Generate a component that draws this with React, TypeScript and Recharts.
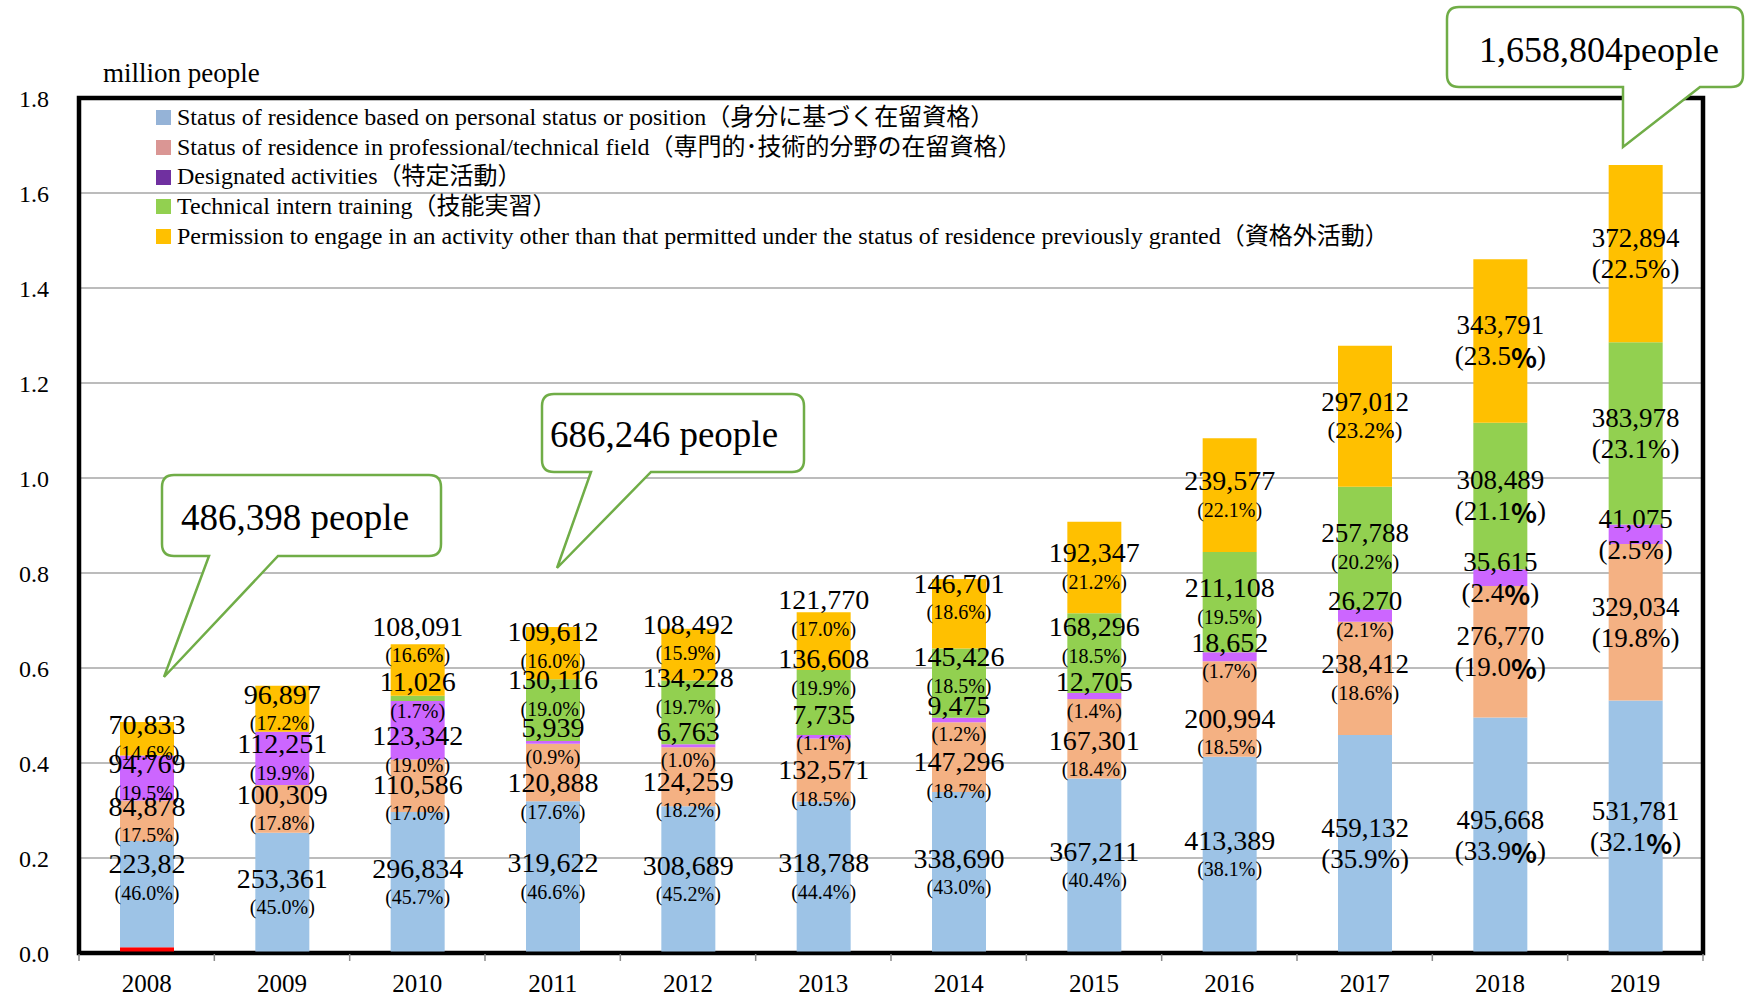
import {
  Bar,
  BarChart,
  CartesianGrid,
  LabelList,
  Legend,
  ReferenceArea,
  XAxis,
  YAxis,
} from "recharts";

const years = ["2008", "2009", "2010", "2011", "2012", "2013", "2014", "2015", "2016", "2017", "2018", "2019"];

// people, per status of residence
const unspecified = [12098, 0, 0, 0, 0, 0, 0, 0, 0, 0, 0, 0];
const personalStatus = [223820, 253361, 296834, 319622, 308689, 318788, 338690, 367211, 413389, 459132, 495668, 531781];
const professional = [84878, 100309, 110586, 120888, 124259, 132571, 147296, 167301, 200994, 238412, 276770, 329034];
const designated = [94769, 112251, 123342, 5939, 6763, 7735, 9475, 12705, 18652, 26270, 35615, 41075];
const internTraining = [0, 0, 11026, 130116, 134228, 136608, 145426, 168296, 211108, 257788, 308489, 383978];
const otherActivity = [70833, 96897, 108091, 109612, 108492, 121770, 146701, 192347, 239577, 297012, 343791, 372894];

// shares printed under each value (%)
const personalPct = [46.0, 45.0, 45.7, 46.6, 45.2, 44.4, 43.0, 40.4, 38.1, 35.9, 33.9, 32.1];
const professionalPct = [17.5, 17.8, 17.0, 17.6, 18.2, 18.5, 18.7, 18.4, 18.5, 18.6, 19.0, 19.8];
const designatedPct = [19.5, 19.9, 19.0, 0.9, 1.0, 1.1, 1.2, 1.4, 1.7, 2.1, 2.4, 2.5];
const internPct = [0, 0, 1.7, 19.0, 19.7, 19.9, 18.5, 18.5, 19.5, 20.2, 21.1, 23.1];
const otherPct = [14.6, 17.2, 16.6, 16.0, 15.9, 17.0, 18.6, 21.2, 22.1, 23.2, 23.5, 22.5];

const yTicksMillion = [0, 0.2, 0.4, 0.6, 0.8, 1.0, 1.2, 1.4, 1.6, 1.8];

const seriesNames = [
  "Status of residence based on personal status or position（身分に基づく在留資格）",
  "Status of residence in professional/technical field（専門的･技術的分野の在留資格）",
  "Designated activities（特定活動）",
  "Technical intern training（技能実習）",
  "Permission to engage in an activity other than that permitted under the status of residence previously granted（資格外活動）",
];

const callouts = [
  { text: "486,398 people" },
  { text: "686,246 people" },
  { text: "1,658,804people" },
];

// the 2008 label is cut short in the source
const labelOverride: Record<string, string> = { "personal-2008": "223,82" };

const FONT = "'Liberation Serif', 'Noto Sans CJK JP', serif";
const barColors = {
  unspecified: "#FF0000",
  personal: "#9DC3E6",
  professional: "#F4B183",
  designated: "#CC66FF",
  intern: "#92D050",
  other: "#FFC000",
};
const legendSwatch = ["#95B3D7", "#DA9694", "#7030A0", "#92D050", "#FFC000"];

// hand-placed label shifts in the source (px, +down)
const labelNudge: Record<string, number[]> = {
  personal: [-16, 0, 0, 0, 0, 0, 0, 0, 0, 0, 0, 0],
  professional: [0, 0, 13, 25, 19, 14, 19, 16, 24, 0, 0, 0],
  designated: [0, 0, 20, 0, 0, -8, 0, 0, 0, 0, 0, 0],
  intern: [0, 0, -2, -16, -20, -29, -12, -12, 0, 0, 0, 0],
  other: [0, 0, -29, -7, -16, -27, -16, 0, 0, 0, 0, 0],
};

const valueByKey: Record<string, number[]> = {
  personal: personalStatus,
  professional,
  designated,
  intern: internTraining,
  other: otherActivity,
};

const pctByKey: Record<string, number[]> = {
  personal: personalPct,
  professional: professionalPct,
  designated: designatedPct,
  intern: internPct,
  other: otherPct,
};

const data = years.map((year, i) => ({
  year,
  unspecified: unspecified[i],
  personal: personalStatus[i],
  professional: professional[i],
  designated: designated[i],
  intern: internTraining[i],
  other: otherActivity[i],
}));

function pctSize(key: string, i: number) {
  const year = years[i];
  if (year === "2018" || year === "2019") return 27;
  if (year === "2017") {
    if (key === "personal") return 27;
    if (key === "other") return 23;
    return 21;
  }
  return 20;
}

function boldPercent(key: string, i: number) {
  return years[i] === "2018" || (years[i] === "2019" && key === "personal");
}

function segmentLabel(key: string) {
  return (props: any) => {
    // label value carries the year, so zero-height bars can't shift the index
    let i = years.indexOf(String(props.value));
    if (i < 0) i = props.index as number;
    const v = valueByKey[key][i];
    if (!v) return null;
    const x = Number(props.x);
    const y = Number(props.y);
    const w = Number(props.width);
    const h = Number(props.height);
    const cx = x + w / 2;
    const cy = y + h / 2 + (labelNudge[key]?.[i] ?? 0);
    const ps = pctSize(key, i);
    const vs = years[i] >= "2017" ? 27 : 28;
    const half = ps > 24 ? 15.5 : 14.5;
    const txt = labelOverride[`${key}-${years[i]}`] ?? v.toLocaleString("en-US");
    const pct = pctByKey[key][i].toFixed(1);
    return (
      <g>
        <text x={cx} y={cy - half} textAnchor="middle" dominantBaseline="central" fontFamily={FONT} fontSize={vs} fill="#000">
          {txt}
        </text>
        <text x={cx} y={cy + half} textAnchor="middle" dominantBaseline="central" fontFamily={FONT} fontSize={ps} fill="#000">
          ({pct}
          {boldPercent(key, i) ? (
            <tspan fontFamily="'Noto Sans CJK JP', sans-serif" fontWeight={700}>%</tspan>
          ) : (
            "%"
          )}
          )
        </text>
      </g>
    );
  };
}

function YearTick(props: any) {
  const { x, y, payload, index } = props;
  const half = payload?.offset || 67.7;
  return (
    <g>
      <line x1={x - half} x2={x - half} y1={y + 1} y2={y + 8} stroke="#8C8C8C" strokeWidth={1.5} />
      {index === years.length - 1 && (
        <line x1={x + half} x2={x + half} y1={y + 1} y2={y + 8} stroke="#8C8C8C" strokeWidth={1.5} />
      )}
      <text x={x} y={y + 39} textAnchor="middle" fontFamily={FONT} fontSize={25} fill="#000">
        {payload.value}
      </text>
    </g>
  );
}

function LegendBox() {
  return (
    <div style={{ fontFamily: FONT, fontSize: 24, lineHeight: "29.7px", color: "#000", whiteSpace: "nowrap" }}>
      {seriesNames.map((name, i) => (
        <div key={name} style={{ display: "flex", alignItems: "center" }}>
          <span style={{ width: 15, height: 15, background: legendSwatch[i], marginRight: 6, display: "inline-block" }} />
          <span>{name}</span>
        </div>
      ))}
    </div>
  );
}

function calloutPath(L: number, R: number, T: number, B: number, a: number, b: number, tx: number, ty: number) {
  const r = 12;
  return `M${L + r},${T} H${R - r} Q${R},${T} ${R},${T + r} V${B - r} Q${R},${B} ${R - r},${B} H${b} L${tx},${ty} L${a},${B} H${L + r} Q${L},${B} ${L},${B - r} V${T + r} Q${L},${T} ${L + r},${T} Z`;
}

export default function App() {
  const series: [string, string][] = [
    ["personal", barColors.personal],
    ["professional", barColors.professional],
    ["designated", barColors.designated],
    ["intern", barColors.intern],
    ["other", barColors.other],
  ];
  return (
    <div style={{ position: "absolute", left: 0, top: 0, width: 1745, height: 998, background: "#fff" }}>
      <BarChart
        width={1745}
        height={998}
        data={data}
        margin={{ top: 98, right: 42, bottom: 5, left: 19 }}
        barSize={54}
      >
        <CartesianGrid vertical={false} stroke="#A6A6A6" strokeWidth={1.5} />
        <XAxis
          dataKey="year"
          height={40}
          tickSize={0}
          tickMargin={0}
          axisLine={{ stroke: "#000", strokeWidth: 3 }}
          tick={<YearTick />}
          interval={0}
        />
        <YAxis
          width={60}
          domain={[0, 1800000]}
          ticks={yTicksMillion.map((t) => Math.round(t * 1e6))}
          tickFormatter={(v: number) => (v / 1e6).toFixed(1)}
          tickSize={0}
          tickMargin={30}
          axisLine={false}
          tick={{ fontSize: 24, fill: "#000", fontFamily: FONT }}
        />
        <Legend
          layout="vertical"
          align="center"
          verticalAlign="middle"
          wrapperStyle={{ top: 103, left: 156, width: "auto" }}
          content={() => <LegendBox />}
        />
        <Bar dataKey="unspecified" stackId="a" fill={barColors.unspecified} isAnimationActive={false} />
        {series.map(([key, color]) => (
          <Bar key={key} dataKey={key} stackId="a" fill={color} isAnimationActive={false}>
            <LabelList dataKey={(row: any) => row.year} content={segmentLabel(key)} />
          </Bar>
        ))}
        <ReferenceArea y1={0} y2={1800000} fill="none" stroke="#000" strokeWidth={4.5} />
      </BarChart>
      <svg width={1745} height={998} style={{ position: "absolute", left: 0, top: 0, pointerEvents: "none" }}>
        <text x={103} y={82} fontFamily={FONT} fontSize={27} fill="#000">
          million people
        </text>
        <path d={calloutPath(162, 441, 475, 556, 209, 278, 164, 677)} fill="#fff" stroke="#70AD47" strokeWidth={2.5} />
        <text x={295} y={530} textAnchor="middle" fontFamily={FONT} fontSize={37} fill="#000">
          {callouts[0].text}
        </text>
        <path d={calloutPath(542, 804, 394, 472, 591, 651, 557, 568)} fill="#fff" stroke="#70AD47" strokeWidth={2.5} />
        <text x={664} y={447} textAnchor="middle" fontFamily={FONT} fontSize={37} fill="#000">
          {callouts[1].text}
        </text>
        <path d={calloutPath(1447, 1743, 7, 87, 1623, 1700, 1623, 147)} fill="#fff" stroke="#70AD47" strokeWidth={2.5} />
        <text x={1599} y={62} textAnchor="middle" fontFamily={FONT} fontSize={36} fill="#000">
          {callouts[2].text}
        </text>
      </svg>
    </div>
  );
}
